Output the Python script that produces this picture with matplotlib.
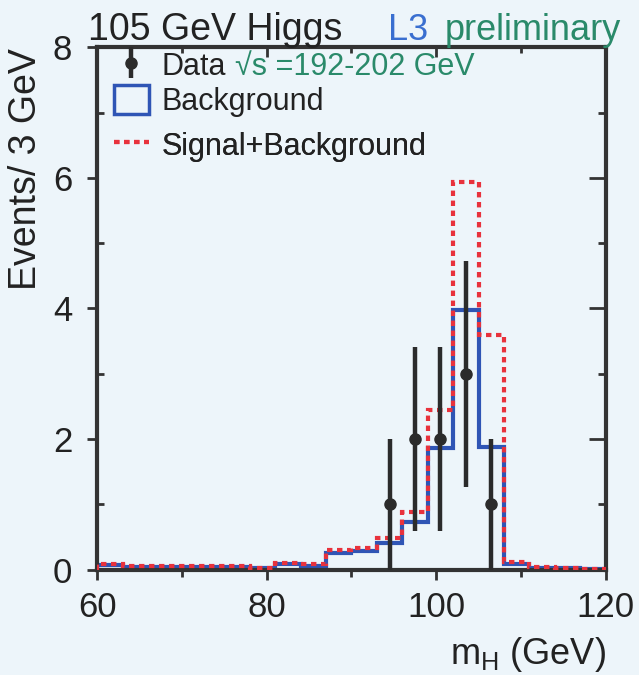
import numpy as np
import matplotlib
matplotlib.use("Agg")
import matplotlib.pyplot as plt
from matplotlib.patches import Patch
from matplotlib.lines import Line2D
from matplotlib.ticker import MultipleLocator

plt.rcParams['font.family'] = ['Liberation Sans', 'DejaVu Sans']
plt.rcParams['mathtext.fontset'] = 'custom'
plt.rcParams['mathtext.rm'] = 'Liberation Sans'

# 3 GeV bins from 60 to 120 GeV
edges = np.arange(60, 121, 3)
background = [0.07, 0.04, 0.04, 0.04, 0.04, 0.04, 0.02, 0.08, 0.06, 0.26,
              0.28, 0.41, 0.73, 1.86, 3.98, 1.88, 0.08, 0.03, 0.02, 0.01]
signal_bkg = [0.09, 0.06, 0.06, 0.06, 0.06, 0.06, 0.03, 0.11, 0.08, 0.30,
              0.33, 0.48, 0.89, 2.44, 5.93, 3.60, 0.12, 0.04, 0.02, 0.01]
data_counts = [0, 0, 0, 0, 0, 0, 0, 0, 0, 0,
               0, 1, 2, 2, 3, 1, 0, 0, 0, 0]

bg = '#edf5fa'
blue = '#2f55b5'
red = '#e8323c'
teal = '#2a8a6a'
ink = '#2b2b2b'
dash = (0, (1.3, 1.1))

fig = plt.figure(figsize=(6.39, 6.75), dpi=100, facecolor=bg)
ax = fig.add_axes([0.152, 0.156, 0.796, 0.774], facecolor=bg)

ax.stairs(background, edges, color=blue, lw=3.0, zorder=2)
ax.stairs(signal_bkg, edges, color=red, lw=3.0, linestyle=dash, zorder=3)

counts = np.array(data_counts, dtype=float)
centers = edges[:-1] + 1.5
sel = counts > 0
eb = ax.errorbar(centers[sel], counts[sel], yerr=np.sqrt(counts[sel]), fmt='o',
                 color=ink, ms=8, elinewidth=3.2, capsize=0, zorder=4)

ax.set_xlim(60, 120)
ax.set_ylim(0, 8)
ax.xaxis.set_major_locator(MultipleLocator(20))
ax.xaxis.set_minor_locator(MultipleLocator(10))
ax.yaxis.set_major_locator(MultipleLocator(2))
ax.yaxis.set_minor_locator(MultipleLocator(1))

for s in ax.spines.values():
    s.set_linewidth(3)
    s.set_color('#333333')

ax.tick_params(axis='x', which='major', direction='out', length=7, width=2,
               labelsize=25, pad=8, colors='#333333', labelcolor='#222222')
ax.tick_params(axis='x', which='minor', direction='out', length=5, width=2, colors='#333333')
ax.tick_params(axis='y', which='major', direction='out', length=7, width=2,
               labelsize=25, pad=11, colors='#333333', labelcolor='#222222')
ax.tick_params(axis='y', which='minor', direction='in', length=5, width=2, colors='#333333')

top = ax.secondary_xaxis('top')
top.xaxis.set_major_locator(MultipleLocator(20))
top.xaxis.set_minor_locator(MultipleLocator(10))
top.tick_params(which='major', direction='in', length=7, width=2, labeltop=False, colors='#333333')
top.tick_params(which='minor', direction='in', length=4, width=2, colors='#333333')
top.spines['top'].set_visible(False)

right = ax.secondary_yaxis('right')
right.yaxis.set_major_locator(MultipleLocator(2))
right.yaxis.set_minor_locator(MultipleLocator(1))
right.tick_params(which='major', direction='in', length=12, width=2, labelright=False, colors='#333333')
right.tick_params(which='minor', direction='in', length=6, width=2, colors='#333333')
right.spines['right'].set_visible(False)

ax.set_ylabel('Events/ 3 GeV', fontsize=27, color='#222222')
ax.yaxis.set_label_coords(-0.105, 0.767)
ax.set_xlabel(r'm$_{\rm H}$ (GeV)', fontsize=26, color='#222222', loc='right', labelpad=8)

ax.text(-0.018, 1.014, '105 GeV Higgs', transform=ax.transAxes, fontsize=27,
        color='#222222', ha='left', va='baseline')
ax.text(0.572, 1.014, 'L3', transform=ax.transAxes, fontsize=26,
        color='#3a6fd0', ha='left', va='baseline')
ax.text(1.03, 1.014, 'preliminary', transform=ax.transAxes, fontsize=26,
        color=teal, ha='right', va='baseline')

# three legend rows, placed one by one to keep the uneven spacing
rows = [(eb, 'Data', 0.964),
        (Patch(facecolor='none', edgecolor=blue, lw=2.5), 'Background', 0.897),
        (Line2D([], [], color=red, lw=3.0, linestyle=dash), 'Signal+Background', 0.811)]
legs = []
for h, lab, yy in rows:
    lg = ax.legend([h], [lab], loc='center left', bbox_to_anchor=(0.033, yy),
                   frameon=False, fontsize=22, handlelength=1.15, handleheight=1.05,
                   handletextpad=0.4, borderaxespad=0.0, borderpad=0.0)
    lg.get_texts()[0].set_color('#222222')
    ax.add_artist(lg)
    legs.append(lg)

ax.annotate('\u221as =192-202 GeV', xy=(1, 0), xycoords=legs[0].get_texts()[0],
            xytext=(7, 0), textcoords='offset points', fontsize=22,
            color=teal, ha='left', va='bottom', zorder=10)

fig.savefig('out.png', dpi=100, facecolor=bg)
